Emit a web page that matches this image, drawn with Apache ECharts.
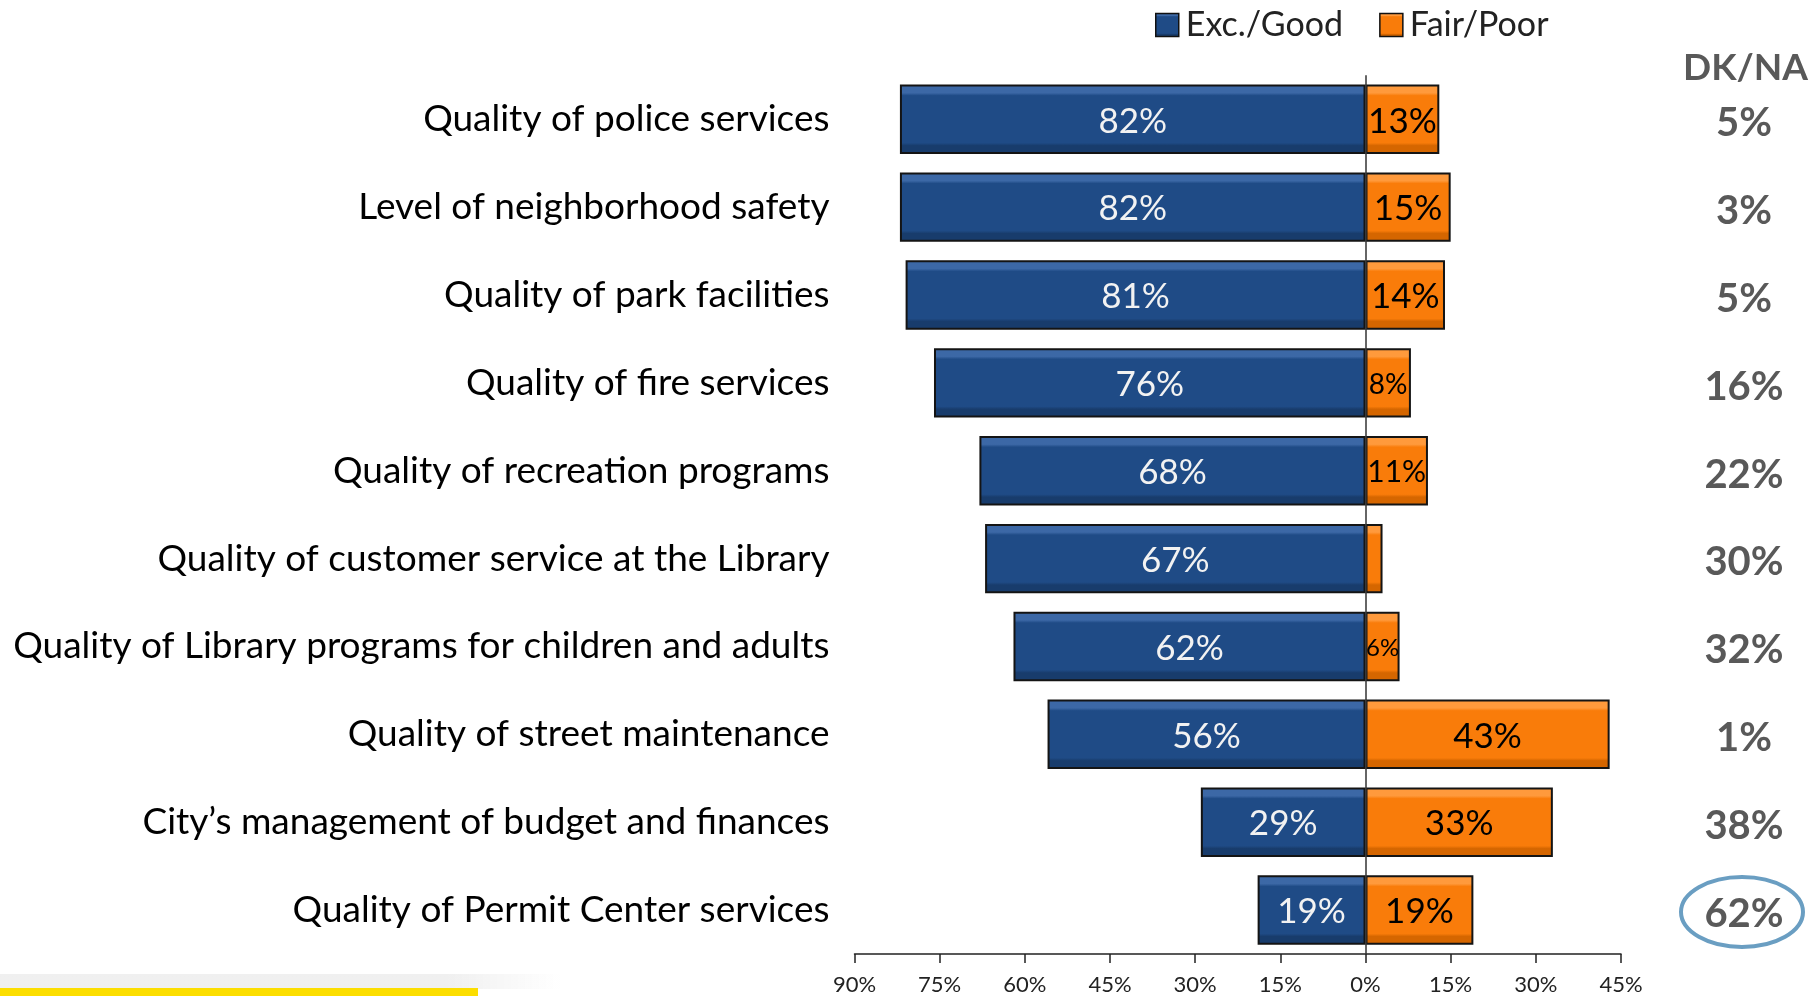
<!DOCTYPE html>
<html>
<head>
<meta charset="utf-8">
<script src="https://cdn.jsdelivr.net/npm/echarts@6/dist/echarts.min.js"></script>
<style>
html,body{margin:0;padding:0;background:#fff;}
#chart{width:1818px;height:996px;}
</style>
</head>
<body>
<div id="chart"></div>
<script>
var categories = [
  'Quality of police services',
  'Level of neighborhood safety',
  'Quality of park facilities',
  'Quality of fire services',
  'Quality of recreation programs',
  'Quality of customer service at the Library',
  'Quality of Library programs for children and adults',
  'Quality of street maintenance',
  'City\u2019s management of budget and finances',
  'Quality of Permit Center services'
];
var excGood = [82, 82, 81, 76, 68, 67, 62, 56, 29, 19];
var fairPoor = [13, 15, 14, 8, 11, 3, 6, 43, 33, 19];
var dkNa = [5, 3, 5, 16, 22, 30, 32, 1, 38, 62];
var xTicks = [-90, -75, -60, -45, -30, -15, 0, 15, 30, 45];
var highlightIndex = 9;

var FONT = 'Lato, "Open Sans", sans-serif';
var GRID = {left: 854.5, right: 197, top: 75.3, bottom: 38.3};
var DK_MARGIN = 123;

function grad(top, mid, bot) {
  return new echarts.graphic.LinearGradient(0, 0, 0, 1, [
    {offset: 0, color: top}, {offset: 0.12, color: top}, {offset: 0.16, color: mid},
    {offset: 0.84, color: mid}, {offset: 0.88, color: bot}, {offset: 1, color: bot}
  ]);
}
var blueFill = grad('#3C68A6', '#1F4B86', '#183C6C');
var orangeFill = grad('#FF9A3C', '#F97C0A', '#D56600');

function orangeSize(v) { return v >= 13 ? 35 : (v >= 11 ? 30 : (v >= 8 ? 28 : 24)); }

var chart = echarts.init(document.getElementById('chart'), null, {renderer: 'canvas'});
var option = {
  animation: false,
  textStyle: {fontFamily: FONT},
  legend: {
    left: 1155, top: 8, padding: 0,
    itemWidth: 23, itemHeight: 23, itemGap: 36,
    icon: 'rect',
    textStyle: {fontSize: 34, color: '#222', fontFamily: FONT, padding: [0, 0, 0, 2]},
    data: [
      {name: 'Exc./Good', itemStyle: {color: blueFill, borderColor: '#111', borderWidth: 1.5}},
      {name: 'Fair/Poor', itemStyle: {color: orangeFill, borderColor: '#111', borderWidth: 1.5}}
    ]
  },
  grid: GRID,
  xAxis: {
    type: 'value', min: -90, max: 45, interval: 15,
    axisLine: {show: true, onZero: false, lineStyle: {color: '#222', width: 1.5}},
    axisTick: {show: true, length: 9, lineStyle: {color: '#222', width: 1.5}},
    splitLine: {show: false},
    axisLabel: {fontSize: 22, color: '#222', margin: 20, fontFamily: FONT,
      formatter: function (v) { return Math.abs(v) + '%'; }}
  },
  yAxis: [{
    type: 'category', inverse: true, data: categories,
    axisLine: {show: false}, axisTick: {show: false},
    axisLabel: {fontSize: 37, color: '#000', margin: 25, fontFamily: FONT}
  }, {
    type: 'category', inverse: true, position: 'right',
    data: dkNa.map(function (v) { return v + '%'; }),
    axisLine: {show: false}, axisTick: {show: false},
    axisLabel: {margin: DK_MARGIN, align: 'center',
      formatter: function (v) { return '{v|' + v + '}'; },
      rich: {v: {fontSize: 40, color: '#595959', fontWeight: 'bold', fontFamily: FONT,
        padding: [8, 0, 0, 0]}}}
  }],
  series: [{
    name: 'Exc./Good', type: 'bar', yAxisIndex: 0,
    barGap: '-100%', barCategoryGap: '21%',
    data: excGood.map(function (v) { return -v; }),
    itemStyle: {color: blueFill, borderColor: '#141414', borderWidth: 2},
    label: {show: true, position: 'inside', color: '#F2F2F2', fontSize: 35, fontFamily: FONT,
      offset: [0, 2],
      formatter: function (p) { return Math.abs(p.value) + '%'; }},
    markLine: {
      silent: true, symbol: 'none', label: {show: false},
      lineStyle: {color: '#333', width: 1.5, type: 'solid'},
      data: [{xAxis: 0}]
    }
  }, {
    name: 'Fair/Poor', type: 'bar', yAxisIndex: 0,
    barGap: '-100%', barCategoryGap: '21%',
    data: fairPoor.map(function (v) {
      return {value: v, label: {fontSize: orangeSize(v)}};
    }),
    itemStyle: {color: orangeFill, borderColor: '#141414', borderWidth: 2},
    label: {show: true, position: 'inside', color: '#000', fontSize: 35, fontFamily: FONT,
      offset: [0, 2],
      formatter: function (p) { return p.value >= 5 ? p.value + '%' : ''; }}
  }]
};
chart.setOption(option);

var dkX = 1818 - GRID.right + DK_MARGIN;
var hy = chart.convertToPixel({yAxisIndex: 0}, categories[highlightIndex]);
var firstY = chart.convertToPixel({yAxisIndex: 0}, categories[0]);
chart.setOption({
  graphic: [
    {type: 'text', left: dkX - 61, top: firstY - 70, z: 10,
      style: {text: 'DK/NA', font: 'bold 37px ' + FONT, fill: '#595959'}},
    {type: 'ellipse', shape: {cx: dkX - 2, cy: hy + 2, rx: 61, ry: 35}, z: 10,
      style: {fill: 'none', stroke: '#6A9EC2', lineWidth: 4}},
    {type: 'rect', shape: {x: 0, y: 974, width: 560, height: 15}, z: 0,
      style: {fill: new echarts.graphic.LinearGradient(0, 0, 1, 0, [
        {offset: 0, color: 'rgba(225,225,225,0.5)'}, {offset: 0.8, color: 'rgba(225,225,225,0.5)'},
        {offset: 1, color: 'rgba(225,225,225,0)'}])}},
    {type: 'rect', shape: {x: 0, y: 988, width: 478, height: 8}, z: 1,
      style: {fill: '#FCDE00'}}
  ]
});
</script>
</body>
</html>
